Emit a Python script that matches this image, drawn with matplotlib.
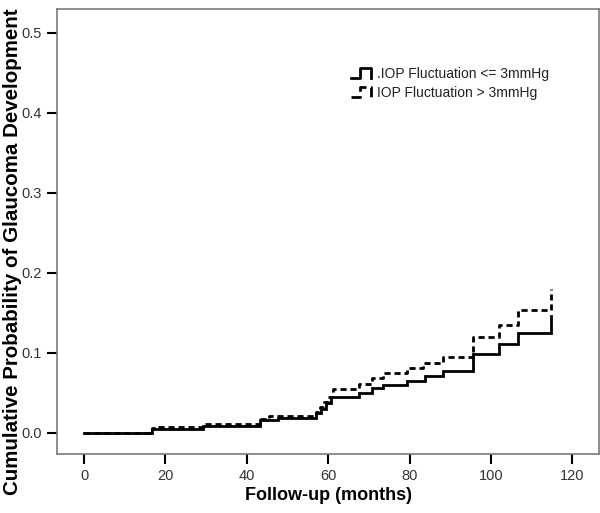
import matplotlib
matplotlib.use("Agg")
import matplotlib.pyplot as plt
from matplotlib.lines import Line2D
from matplotlib.legend_handler import HandlerBase

plt.rcParams['font.family'] = ['Liberation Sans', 'DejaVu Sans']

# Series 1: IOP fluctuation <= 3 mmHg (solid)
low_times = [0, 16.6, 29.1, 43.2, 47.7, 57.1, 58.3, 59.5, 60.8, 67.5, 70.7, 73.5, 79.3, 83.8, 88.3, 95.5, 102.0, 106.7, 114.7]
low_values = [0, 0.005, 0.009, 0.016, 0.019, 0.024, 0.030, 0.037, 0.044, 0.049, 0.056, 0.060, 0.065, 0.071, 0.077, 0.098, 0.111, 0.125, 0.146]

# Series 2: IOP fluctuation > 3 mmHg (dashed)
high_times = [0, 16.6, 17.8, 29.1, 43.2, 45.5, 57.1, 58.0, 59.0, 60.0, 61.2, 67.5, 70.7, 73.5, 79.3, 83.4, 88.3, 95.5, 102.0, 106.7, 114.7]
high_values = [0, 0.0055, 0.0075, 0.011, 0.017, 0.021, 0.026, 0.032, 0.038, 0.045, 0.055, 0.061, 0.068, 0.074, 0.0805, 0.087, 0.095, 0.120, 0.135, 0.153, 0.179]

labels = ['.IOP Fluctuation <= 3mmHg', 'IOP Fluctuation > 3mmHg']
x_ticks = [0, 20, 40, 60, 80, 100, 120]
y_ticks = [0.0, 0.1, 0.2, 0.3, 0.4, 0.5]

fig = plt.figure(figsize=(6.0, 5.13), dpi=100)
ax = fig.add_axes([57.3 / 600, 1 - 454 / 513, (598.7 - 57.3) / 600, (454 - 9.3) / 513])

dash = (0, (2.2, 1.4))
ax.step(low_times, low_values, where='post', color='black', lw=2.0, solid_joinstyle='miter')
ax.step(high_times, high_values, where='post', color='black', lw=2.0, linestyle=dash)

ax.set_xlim(-6.6, 126.5)
ax.set_ylim(-0.0266, 0.529)
ax.set_xticks(x_ticks)
ax.set_xticklabels([str(v) for v in x_ticks])
ax.set_yticks(y_ticks)
ax.set_yticklabels([f"{v:.1f}" for v in y_ticks])

for s in ax.spines.values():
    s.set_color('#7a7a7a')
    s.set_linewidth(1.2)

ax.tick_params(axis='both', direction='out', length=7, width=1.5, color='black',
               labelsize=10.5, labelcolor='#333333', pad=4)

ax.set_xlabel('Follow-up (months)', fontsize=13, fontweight='bold', labelpad=3)
ax.set_ylabel('Cumulative Probability of Glaucoma Development', fontsize=14.8, fontweight='bold')
ax.yaxis.set_label_coords((22 - 57.3) / 541.4, (454 - 252) / 444.7)


class StepHandler(HandlerBase):
    def create_artists(self, legend, orig_handle, xdescent, ydescent, width, height, fontsize, trans):
        x0 = -xdescent
        y0 = -ydescent
        xs = [x0, x0 + 0.45 * width, x0 + 0.45 * width, x0 + width, x0 + width]
        ys = [y0, y0, y0 + height, y0 + height, y0]
        ln = Line2D(xs, ys, color=orig_handle.get_color(), lw=orig_handle.get_linewidth(),
                    linestyle=orig_handle.get_linestyle(), transform=trans)
        return [ln]


h1 = Line2D([], [], color='black', lw=2.0, linestyle='-')
h2 = Line2D([], [], color='black', lw=2.0, linestyle=(0, (1.5, 1.0)))
leg = fig.legend([h1, h2], labels, loc='upper left', bbox_to_anchor=(351 / 600, 1 - 67 / 513),
                 bbox_transform=fig.transFigure, frameon=False, fontsize=10,
                 handler_map={Line2D: StepHandler()}, handlelength=1.44, handleheight=0.75,
                 handletextpad=0.43, labelspacing=0.33, borderpad=0, borderaxespad=0)
for t in leg.get_texts():
    t.set_color('#222222')

fig.savefig('out.png', dpi=100)
